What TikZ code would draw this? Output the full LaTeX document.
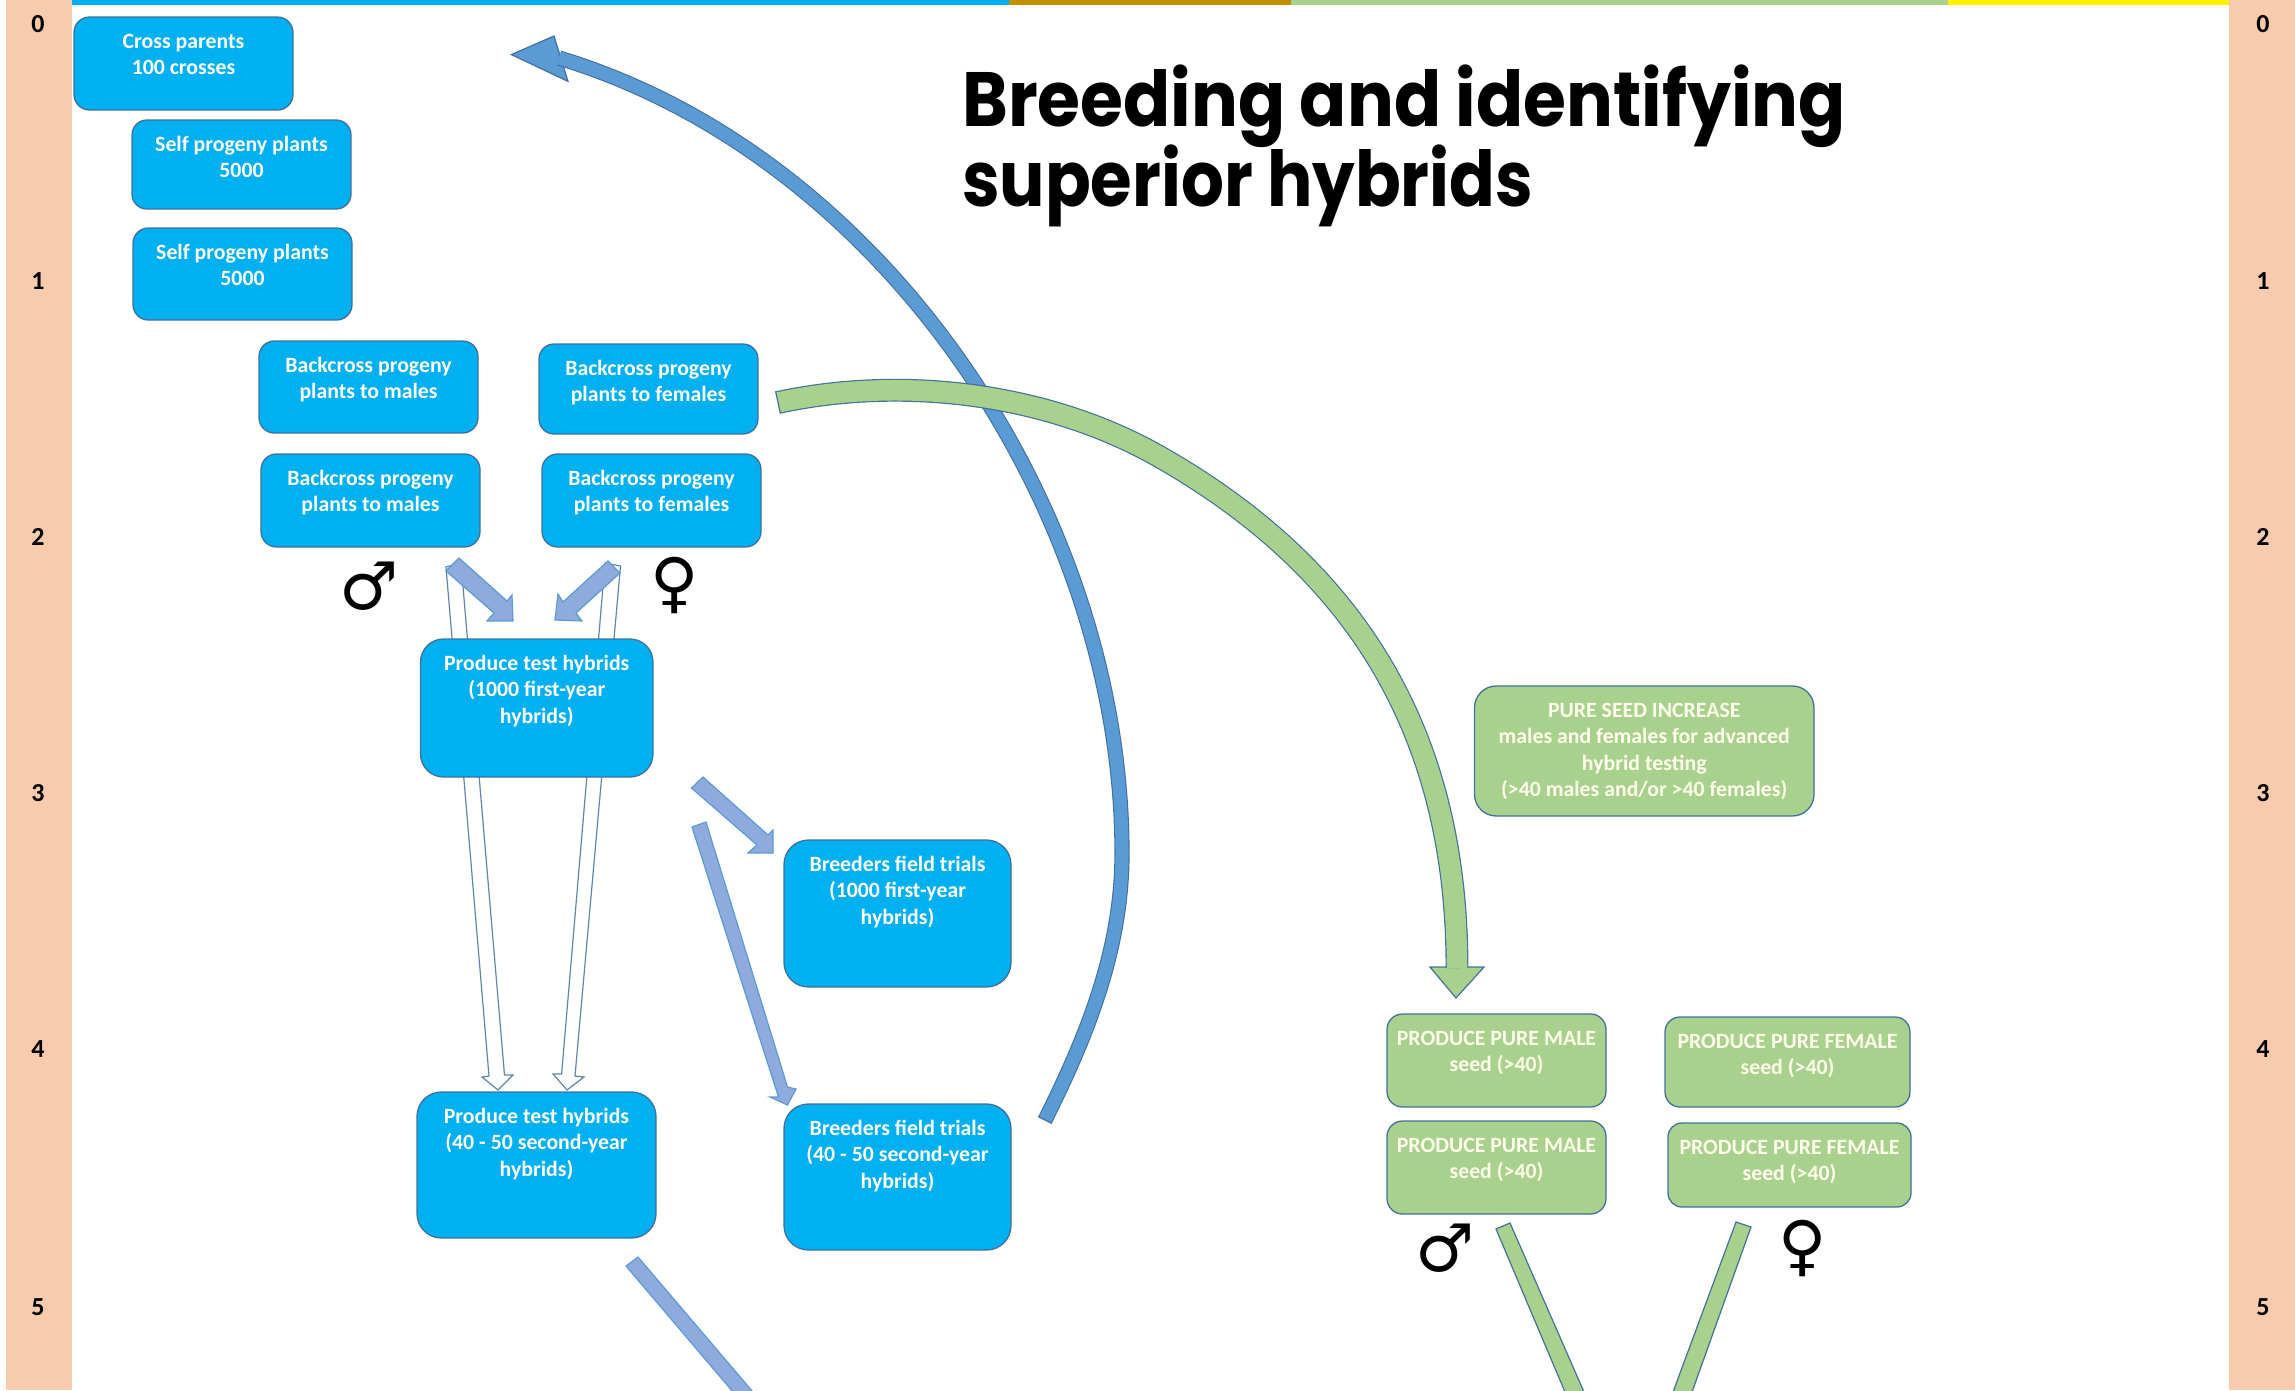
\documentclass[tikz,border=0pt]{standalone}
\usepackage{fontspec}
\setmainfont{Carlito}
\newfontfamily\titlefont{Poppins}
\newfontfamily\symfont{DejaVu Sans}
\definecolor{bluebox}{HTML}{00B0F0}
\definecolor{greenbox}{HTML}{A9D18E}
\definecolor{edgeblue}{HTML}{41719C}
\definecolor{arcblue}{HTML}{5B9BD5}
\definecolor{lightarrow}{HTML}{8FAADC}
\definecolor{band}{HTML}{F8CBAD}
\definecolor{strippbrown}{HTML}{BF9000}
\tikzset{
  flowstyle/.style={draw=edgeblue,line width=1.3pt,inner sep=0pt,text=white},
  bluestyle/.style={flowstyle,fill=bluebox},
  greenstyle/.style={flowstyle,fill=greenbox,text=white!92!yellow},
  arcarrow/.style={draw=edgeblue,line width=1.2pt,fill=arcblue,line join=miter},
  greenarrow/.style={draw=edgeblue,line width=1.2pt,fill=greenbox,line join=miter},
  arcshaft/.style={draw=edgeblue,line width=1.1pt,double=arcblue,double distance=13pt},
  greenshaft/.style={draw=edgeblue,line width=1.2pt,double=greenbox,double distance=20.5pt},
  lightblock/.style={draw=arcblue,line width=1.2pt,fill=lightarrow,line join=miter},
  hollowblock/.style={draw=edgeblue!85,line width=1.2pt,fill=white,line join=miter},
  rownum/.style={font=\bfseries\fontsize{26}{28}\selectfont,text=black,inner sep=0pt},
  gender/.style={font=\symfont\fontsize{66}{66}\selectfont,text=black,inner sep=0pt},
}
\newcommand{\flowbox}[7]{%
  \pgfmathsetmacro{\bw}{#4-#2}\pgfmathsetmacro{\bh}{#5-#3}%
  \pgfmathsetmacro{\brad}{min(\bw,\bh)/6}%
  \node[#6,rounded corners=\brad pt,minimum width=\bw pt,minimum height=\bh pt]
    (#1) at ({(#2+#4)/2},{(#3+#5)/2})
    {\parbox[c][\bh pt][t]{\bw pt}{\centering\fontsize{21.8}{26.4}\selectfont\bfseries\rule{0pt}{31.5pt}#7}};%
}
\begin{document}
\begin{tikzpicture}[x=1pt,y=-1pt]
\useasboundingbox (0,0) rectangle (2295,1390);
\clip (0,0) rectangle (2295,1390);
% bands and strip
\fill[band] (6,0) rectangle (72,1390);
\fill[band] (2229,0) rectangle (2295,1390);
\fill[bluebox] (72,0) rectangle (1009,5);
\fill[strippbrown] (1009,0) rectangle (1291,5);
\fill[greenbox] (1291,0) rectangle (1948,5);
\fill[yellow] (1948,0) rectangle (2229,5);
% row numbers
\foreach \n/\yy in {0/24,1/281,2/537,3/793,4/1049,5/1307}{
  \node[rownum] (numL\n) at (38,\yy) {\n};
  \node[rownum] (numR\n) at (2263,\yy) {\n};
}
% title
\node[anchor=base west,inner sep=0pt,font=\titlefont\bfseries\fontsize{77}{80}\selectfont,xscale=0.903] (title1) at (962,126) {Breeding and identifying};
\node[anchor=base west,inner sep=0pt,font=\titlefont\bfseries\fontsize{77}{80}\selectfont,xscale=0.875] (title2) at (962,206) {superior hybrids};
% big blue arc
\draw[arcarrow] (554,36) -- (511.4,54.6) -- (568,81.4) -- cycle;
\draw[arcshaft] (1045,1120) .. controls (1090,1030) and (1122,946) .. (1122,853)
  .. controls (1122,513) and (886,157) .. (559,58);
\draw[edgeblue,line width=1.2pt] (1051.7,1123.4) -- (1038.3,1116.6);
% big green arc
\draw[greenarrow] (1430,967) -- (1484,967) -- (1456,998) -- cycle;
\draw[greenshaft] (778,402.5) .. controls (905,375) and (1050,394) .. (1160,457)
  .. controls (1360,571) and (1457,737) .. (1457,968);
\draw[edgeblue,line width=1.2pt] (775.6,391.3) -- (780.4,413.7);
% hollow arrows
\draw[hollowblock] (446,567) -- (461,563) -- (504.5,1075) -- (513,1075) -- (498,1090) -- (482,1077) -- (489,1076) -- cycle;
\draw[hollowblock] (620.5,566) -- (605,563) -- (561.6,1074) -- (553,1074) -- (567,1090) -- (584,1077) -- (575,1076) -- cycle;
% boxes
\flowbox{cross}{74}{17}{293}{110}{bluestyle}{Cross parents\\100 crosses}
\flowbox{selfa}{132}{120}{351}{209}{bluestyle}{Self progeny plants\\5000}
\flowbox{selfb}{133}{228}{352}{320}{bluestyle}{Self progeny plants\\5000}
\flowbox{bcma}{259}{341}{478}{433}{bluestyle}{Backcross progeny\\plants to males}
\flowbox{bcfa}{539}{344}{758}{434}{bluestyle}{Backcross progeny\\plants to females}
\flowbox{bcmb}{261}{454}{480}{547}{bluestyle}{Backcross progeny\\plants to males}
\flowbox{bcfb}{542}{454}{761}{547}{bluestyle}{Backcross progeny\\plants to females}
\flowbox{proda}{420.5}{639}{653}{777}{bluestyle}{Produce test hybrids\\(1000 first-year\\hybrids)}
\flowbox{prodb}{417}{1092}{656}{1238}{bluestyle}{Produce test hybrids\\(40 - 50 second-year\\hybrids)}
\flowbox{fielda}{784}{840}{1011}{987}{bluestyle}{Breeders field trials\\(1000 first-year\\hybrids)}
\flowbox{fieldb}{784}{1104}{1011}{1250}{bluestyle}{Breeders field trials\\(40 - 50 second-year\\hybrids)}
\flowbox{seedinc}{1474.5}{686}{1814}{816}{greenstyle}{PURE SEED INCREASE\\males and females for advanced\\hybrid testing\\(>40 males and/or >40 females)}
\flowbox{puma}{1387}{1014}{1606}{1107}{greenstyle}{PRODUCE PURE MALE\\seed (>40)}
\flowbox{pumb}{1387}{1121}{1606}{1214}{greenstyle}{PRODUCE PURE MALE\\seed (>40)}
\flowbox{pufa}{1665}{1017}{1910}{1107}{greenstyle}{PRODUCE PURE FEMALE\\seed (>40)}
\flowbox{pufb}{1668}{1123}{1911}{1207}{greenstyle}{PRODUCE PURE FEMALE\\seed (>40)}
% small block arrows
\draw[lightblock] (446,571) -- (459,558) -- (507,601) -- (512,595) -- (513,621) -- (487,621) -- (494,613) -- cycle;
\draw[lightblock] (620,573) -- (608,561) -- (563,602) -- (558,594) -- (555,620) -- (582,621) -- (576,613) -- cycle;
\draw[lightblock] (691.5,788) -- (703,777) -- (768,835) -- (773,830) -- (773,853) -- (748,853) -- (757,845) -- cycle;
\draw[lightblock] (692,827) -- (706,822) -- (787.5,1087) -- (796,1089) -- (787.5,1105) -- (770,1097) -- (778.5,1097) -- cycle;
\draw[lightblock] (626,1266) -- (638,1257) -- (753,1392) -- (733,1392) -- cycle;
% green straight shafts
\draw[greenarrow] (1496,1229) -- (1510,1223) -- (1584,1392) -- (1565,1392) -- cycle;
\draw[greenarrow] (1736,1222) -- (1751,1227) -- (1692,1392) -- (1673,1392) -- cycle;
% gender symbols
\node[gender] (ma) at (369,586) {♂};
\node[gender] (fa) at (675,585) {♀};
\node[gender] (mb) at (1445,1248) {♂};
\node[gender] (fb) at (1803,1248) {♀};
\end{tikzpicture}
\end{document}
